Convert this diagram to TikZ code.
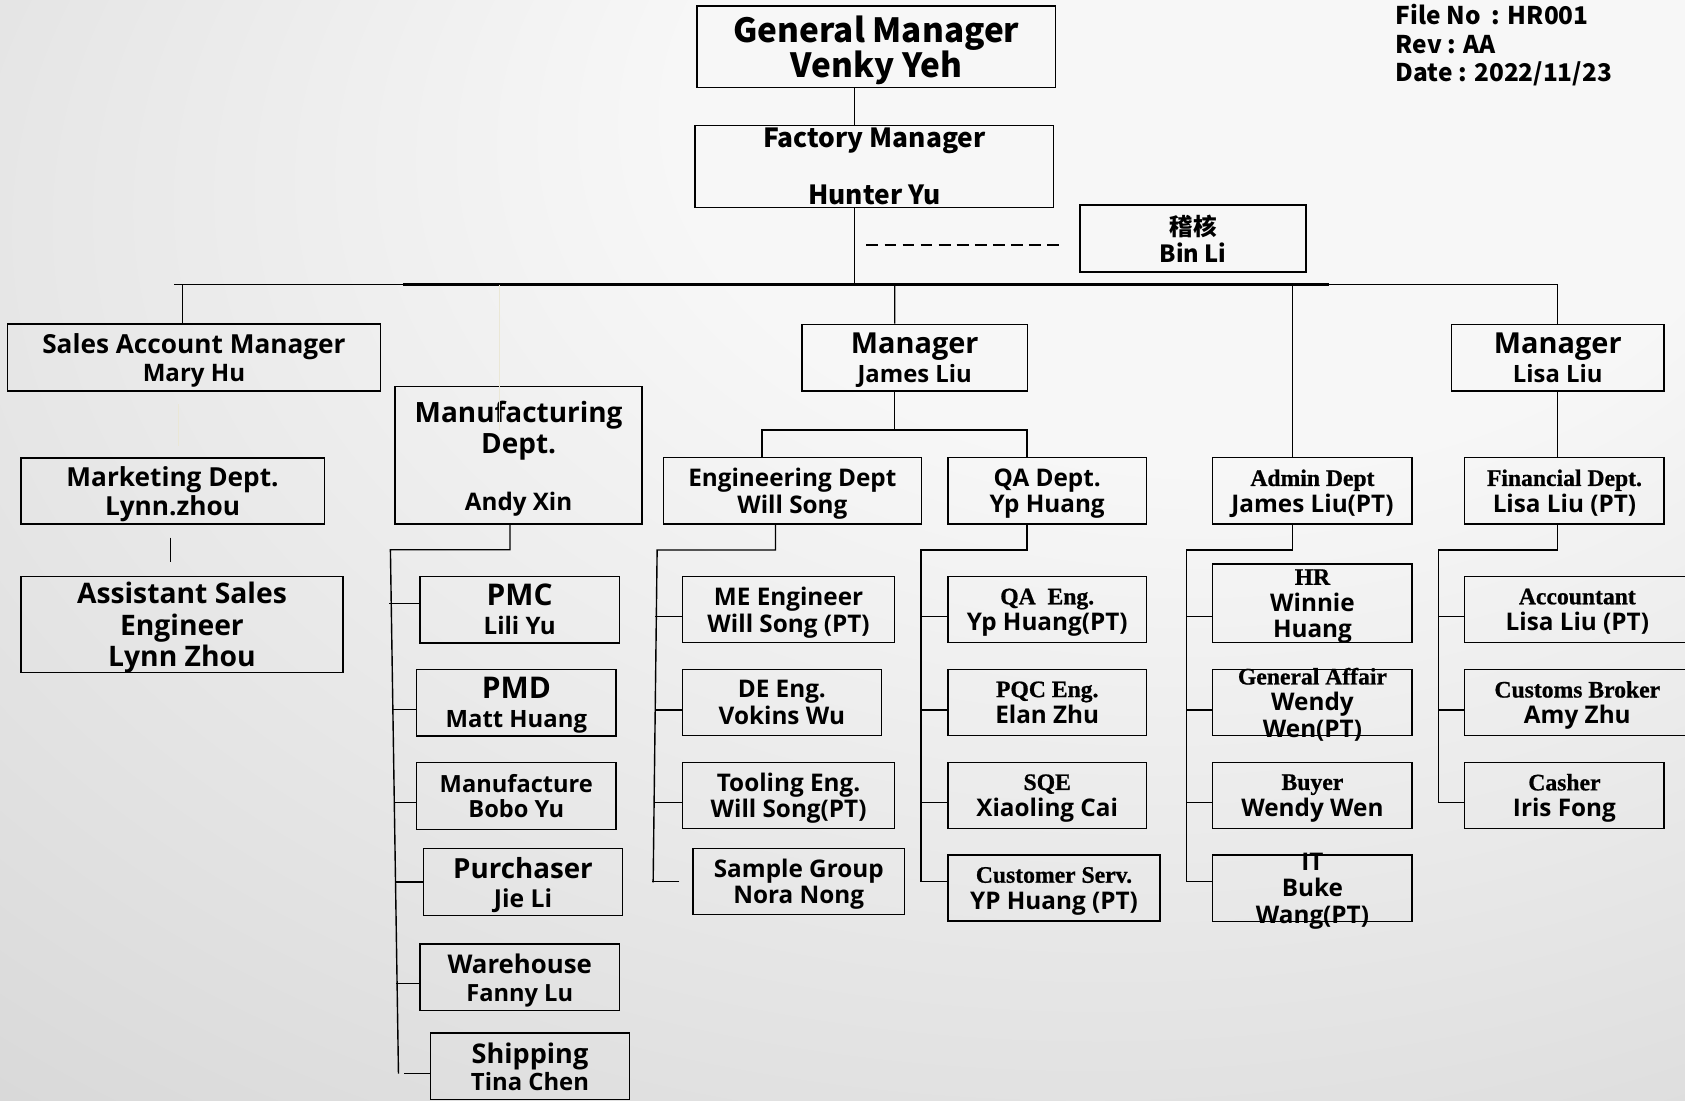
\documentclass[tikz,border=0pt]{standalone}
\usepackage{fontspec}
\IfFontExistsTF{Noto Sans Bold}{\setmainfont{Noto Sans}[BoldFont={Noto Sans Bold}]}{%
  \IfFontExistsTF{Open Sans Bold}{\setmainfont{Open Sans}[BoldFont={Open Sans Bold}]}{%
    \setmainfont{Noto Sans}[BoldFeatures={FakeBold=2.5}]}}
\newfontfamily\tmsfont{Liberation Serif}[BoldFeatures={FakeBold=0.8}]
\newfontfamily\hdfont{Noto Sans CJK SC}
\newcommand\fs[1]{\fontsize{#1}{#1}\selectfont}
\newcommand\fsz[2]{\fontsize{#1}{#2}\selectfont}
\newcommand\tms[1]{{\tmsfont\fs{22}#1}}
\definecolor{bgin}{RGB}{247,247,247}
\definecolor{bgout}{RGB}{186,186,186}
\definecolor{faint}{RGB}{234,231,214}
\pgfdeclareradialshading{bgshade}{\pgfpoint{14bp}{25bp}}{color(0bp)=(bgin); color(16bp)=(bgin); color(78bp)=(bgout)}
\tikzset{
  box/.style={draw,line width=1.3pt,inner sep=0pt},
  lbl/.style={align=center,inner sep=0pt,text depth=0pt,font=\bfseries\fsz{22.6}{24.5}},
  link/.style={line width=1.3pt},
  busline/.style={line width=2.4pt},
  faintline/.style={draw=faint,line width=1.2pt},
}
\begin{document}
\begin{tikzpicture}[x=1pt,y=-1pt]
\useasboundingbox (0,0) rectangle (1568,1024);
\shade[shading=bgshade] (0,0) rectangle (1568,1024);

% top of the chart
\node[box,minimum width=333.5pt,minimum height=76pt] (gm) at (815.5,43.6) {};
\node[lbl,font=\hdfont\bfseries\fsz{31}{33}] (gm-t) at (gm) {General Manager\\Venky Yeh};
\node[box,minimum width=333.6pt,minimum height=76pt] (fm) at (813.7,155) {};
\node[lbl,font=\hdfont\bfseries\fsz{24.5}{53}] (fm-t) at (fm) {Factory Manager\\Hunter Yu};
\node[box,minimum width=210.5pt,minimum height=62.2pt] (bin) at (1110.2,221.9) {};
\node[lbl,font=\hdfont\bfseries\fsz{22}{25}] (bin-t) at (bin) {稽核\\Bin Li};
\node[anchor=north west,align=left,inner sep=0pt,font=\hdfont\bfseries\fsz{22.7}{26.5}] (info) at (1298.7,4) {File No~ : HR001\\Rev : AA\\Date : 2022/11/23};

% sales
\node[box,minimum width=347pt,minimum height=62.4pt] (sales) at (180.5,332.8) {};
\node[lbl,font=\bfseries\fsz{24.4}{26}] (sales-t) at (sales) {Sales Account Manager\\{\fs{22.4}Mary Hu}};
\node[box,minimum width=282.2pt,minimum height=61.7pt] (mkt) at (160.6,456.9) {};
\node[lbl,font=\bfseries\fsz{24.4}{27}] (mkt-t) at (mkt) {Marketing Dept.\\Lynn.zhou};
\node[box,minimum width=299.5pt,minimum height=89pt] (asst) at (169.3,581.1) {};
\node[lbl,font=\bfseries\fsz{26.3}{29.5}] (asst-t) at (asst) {Assistant Sales\\Engineer\\Lynn Zhou};

% manufacturing
\node[box,minimum width=229.8pt,minimum height=127.9pt] (mfg) at (482.6,423.8) {};
\node[lbl,font=\bfseries\fsz{26}{29}] (mfg-t) at (mfg) {Manufacturing\\Dept.\\[24pt]{\fs{22.5}Andy Xin}};
\node[box,minimum width=185.5pt,minimum height=62.1pt] (pmc) at (483.6,567.3) {};
\node[lbl,font=\bfseries\fsz{22.4}{27}] (pmc-t) at (pmc) {{\fs{27.8}PMC}\\Lili Yu};
\node[box,minimum width=185.5pt,minimum height=61.7pt] (pmd) at (480.5,654) {};
\node[lbl,font=\bfseries\fsz{22.2}{27}] (pmd-t) at (pmd) {{\fs{27.8}PMD}\\Matt Huang};
\node[box,minimum width=185.5pt,minimum height=62pt] (manu) at (480.5,740.7) {};
\node[lbl,font=\bfseries\fsz{22}{24}] (manu-t) at (manu) {Manufacture\\Bobo Yu};
\node[box,minimum width=185.5pt,minimum height=62.4pt] (purch) at (486.7,820.8) {};
\node[lbl,font=\bfseries\fsz{23}{27}] (purch-t) at (purch) {{\fs{25.8}Purchaser}\\Jie Li};
\node[box,minimum width=185.5pt,minimum height=62pt] (ware) at (483.6,909.5) {};
\node[lbl,font=\bfseries\fsz{22}{26}] (ware-t) at (ware) {{\fs{24}Warehouse}\\Fanny Lu};
\node[box,minimum width=184.8pt,minimum height=62pt] (ship) at (493.2,992.3) {};
\node[lbl,font=\bfseries\fsz{22.2}{25}] (ship-t) at (ship) {{\fs{25.2}Shipping}\\Tina Chen};

% engineering and QA
\node[box,minimum width=210pt,minimum height=62.1pt] (mgr1) at (851.2,332.9) {};
\node[lbl,font=\bfseries\fsz{22.2}{27}] (mgr1-t) at (mgr1) {{\fs{26.9}Manager}\\James Liu};
\node[box,minimum width=240.3pt,minimum height=61.7pt] (eng) at (737.3,456.8) {};
\node[lbl] (eng-t) at (eng) {Engineering Dept\\Will Song};
\node[box,minimum width=184.7pt,minimum height=61.7pt] (qa) at (974.5,456.8) {};
\node[lbl] (qa-t) at (qa) {QA Dept.\\Yp Huang};
\node[box,minimum width=197.4pt,minimum height=61.5pt] (me) at (733.8,567.3) {};
\node[lbl] (me-t) at (me) {ME Engineer\\Will Song (PT)};
\node[box,minimum width=185.1pt,minimum height=61.7pt] (de) at (727.6,653.7) {};
\node[lbl] (de-t) at (de) {DE Eng.\\Vokins Wu};
\node[box,minimum width=197.4pt,minimum height=61.4pt] (tool) at (733.8,740.1) {};
\node[lbl] (tool-t) at (tool) {Tooling Eng.\\Will Song(PT)};
\node[box,minimum width=197pt,minimum height=61.5pt] (smp) at (743.3,820.1) {};
\node[lbl] (smp-t) at (smp) {Sample Group\\Nora Nong};
\node[box,minimum width=184.7pt,minimum height=61.5pt] (qae) at (974.5,567.3) {};
\node[lbl] (qae-t) at (qae) {\tms{QA~~Eng.}\\Yp Huang(PT)};
\node[box,minimum width=184.7pt,minimum height=61.7pt] (pqc) at (974.5,653.7) {};
\node[lbl] (pqc-t) at (pqc) {\tms{PQC Eng.}\\Elan Zhu};
\node[box,minimum width=184.7pt,minimum height=61.4pt] (sqe) at (974.5,740.1) {};
\node[lbl] (sqe-t) at (sqe) {\tms{SQE}\\Xiaoling Cai};
\node[box,minimum width=197.3pt,minimum height=61.5pt] (cs) at (980.8,826.4) {};
\node[lbl] (cs-t) at (cs) {\tms{Customer Serv.}\\YP Huang (PT)};

% admin
\node[box,minimum width=185.5pt,minimum height=61.7pt] (adm) at (1221.3,456.8) {};
\node[lbl] (adm-t) at (adm) {\tms{Admin Dept}\\James Liu(PT)};
\node[box,minimum width=185.5pt,minimum height=73.3pt] (hr) at (1221.3,561.5) {};
\node[lbl] (hr-t) at (hr) {\tms{HR}\\Winnie\\Huang};
\node[box,minimum width=185.5pt,minimum height=61.7pt] (ga) at (1221.3,653.7) {};
\node[lbl] (ga-t) at (ga) {\tms{General Affair}\\Wendy\\Wen(PT)};
\node[box,minimum width=185.5pt,minimum height=61.4pt] (buy) at (1221.3,740.1) {};
\node[lbl] (buy-t) at (buy) {\tms{Buyer}\\Wendy Wen};
\node[box,minimum width=185.5pt,minimum height=62.1pt] (it) at (1221.3,826.6) {};
\node[lbl,font=\bfseries\fsz{22.6}{25}] (it-t) at (it) {IT\\Buke\\Wang(PT)};

% finance
\node[box,minimum width=197.7pt,minimum height=62.1pt] (mgr2) at (1449.6,332.9) {};
\node[lbl,font=\bfseries\fsz{22.2}{27}] (mgr2-t) at (mgr2) {{\fs{26.9}Manager}\\Lisa Liu};
\node[box,minimum width=185.5pt,minimum height=61.7pt] (fin) at (1455.8,456.8) {};
\node[lbl] (fin-t) at (fin) {\tms{Financial Dept.}\\Lisa Liu (PT)};
\node[box,minimum width=209.5pt,minimum height=61.5pt] (acc) at (1467.8,567.3) {};
\node[lbl] (acc-t) at (acc) {\tms{Accountant}\\Lisa Liu (PT)};
\node[box,minimum width=209.5pt,minimum height=61.7pt] (cb) at (1467.8,653.7) {};
\node[lbl] (cb-t) at (cb) {\tms{Customs Broker}\\Amy Zhu};
\node[box,minimum width=185.5pt,minimum height=61.4pt] (cash) at (1455.8,740.1) {};
\node[lbl] (cash-t) at (cash) {\tms{Casher}\\Iris Fong};

% bus and taps
\coordinate (busA) at (162,265);
\coordinate (busB) at (375,265);
\coordinate (busC) at (1237,265);
\coordinate (busD) at (1449.6,265);
\coordinate (tsales) at (170,265);
\coordinate (tfaint) at (464.5,265);
\coordinate (tfm) at (795.4,265);
\coordinate (tmgr1) at (832.6,265);
\coordinate (tadm) at (1202.8,265);
\coordinate (efaint) at (464.5,400);
\draw[link] (busA) -- (busB);
\draw[busline] (busB) -- (busC);
\draw[link] (busC) -- (busD);
\draw[link] ([xshift=-20.1pt]gm.south) -- ([xshift=-18.3pt]fm.north);
\draw[link] ([xshift=-18.3pt]fm.south) -- (tfm);
\draw[link,dash pattern=on 11pt off 5.8pt] ([xshift=-198pt,yshift=-6.1pt]bin.west) -- ([xshift=-14pt,yshift=-6.1pt]bin.west);
\draw[link] (tsales) -- ([xshift=-10.5pt]sales.north);
\draw[link] (tmgr1) -- ([xshift=-18.6pt]mgr1.north);
\draw[link] (tadm) -- ([xshift=-18.5pt]adm.north);
\draw[link] (busD) -- (mgr2.north);
\draw[faintline] (tfaint) -- (efaint);
\draw[faintline] ([xshift=-14.5pt,yshift=-11.5pt]sales.south) -- ([xshift=-14.5pt,yshift=-50.7pt]sales.south);
\draw[link] ([xshift=-1.8pt,yshift=-11.9pt]mkt.south) -- ([xshift=-10.5pt,yshift=13pt]asst.north);

% manufacturing tree
\coordinate (mfgT) at (363.3,511.6);
\coordinate (mfgB) at (370.8,999);
\draw[link] ([xshift=-8pt]mfg.south) |- (mfgT) -- (mfgB);
\draw[link] ([yshift=5.9pt]pmc.west) -- ++(-27.8,0);
\draw[link] ([yshift=-6.4pt]pmd.west) -- ++(-22.1,0);
\draw[link] ([yshift=-5.8pt]manu.west) -- ++(-20.8,0);
\draw[link] (purch.west) -- ++(-25.8,0);
\draw[link] ([yshift=-5.9pt]ware.west) -- ++(-21.3,0);
\draw[link] ([yshift=-6.7pt]ship.west) -- ++(-23.9,0);

% engineering and QA trees
\draw[link] ([xshift=-28.4pt]eng.north) -- ++(0,-25.1) -| ([xshift=-18.7pt]qa.north);
\draw[link] ([xshift=-18.6pt]mgr1.south) -- ++(0,36.9);
\coordinate (engT) at (611.5,511.8);
\coordinate (engB) at (607.8,821);
\draw[link] ([xshift=-15.7pt]eng.south) |- (engT) -- (engB);
\draw[link] ([yshift=-6.6pt]me.west) -- ++(-24.6,0);
\draw[link] ([yshift=-7pt]de.west) -- ++(-24.9,0);
\draw[link] ([yshift=-6.5pt]tool.west) -- ++(-25.6,0);
\draw[link] ([xshift=-12pt,yshift=-0.4pt]smp.west) -- ++(-25.6,0);
\coordinate (qaT) at (857.2,511.8);
\coordinate (qaB) at (857.2,820.5);
\draw[link] ([xshift=-18.7pt]qa.south) |- (qaT) -- (qaB) -- ([yshift=5.9pt]cs.west);
\draw[link] ([yshift=-6.6pt]qae.west) -- ++(-24.9,0);
\draw[link] ([yshift=-7pt]pqc.west) -- ++(-24.9,0);
\draw[link] ([yshift=-6.5pt]sqe.west) -- ++(-24.9,0);

% admin tree
\coordinate (admT) at (1104.3,511.8);
\coordinate (admB) at (1104.3,820.5);
\draw[link] ([xshift=-18.5pt]adm.south) |- (admT) -- (admB) -- ([yshift=6.1pt]it.west);
\draw[link] ([yshift=-12.4pt]hr.west) -- ++(-24.2,0);
\draw[link] ([yshift=-7pt]ga.west) -- ++(-24.2,0);
\draw[link] ([yshift=-6.5pt]buy.west) -- ++(-24.2,0);

% finance tree
\draw[link] (mgr2.south) -- ([xshift=-6.2pt]fin.north);
\coordinate (finT) at (1338.5,511.8);
\coordinate (finB) at (1338.5,746.6);
\draw[link] ([xshift=-6.2pt]fin.south) |- (finT) -- (finB) -- ([yshift=-6.5pt]cash.west);
\draw[link] ([yshift=-6.6pt]acc.west) -- ++(-24.5,0);
\draw[link] ([yshift=-7pt]cb.west) -- ++(-24.5,0);
\end{tikzpicture}
\end{document}
